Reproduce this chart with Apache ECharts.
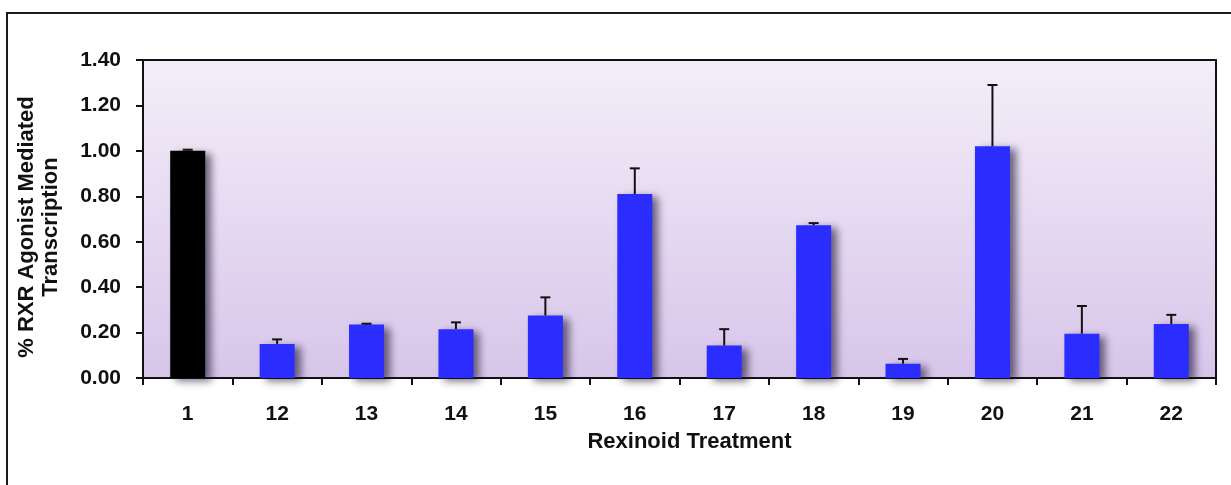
<!DOCTYPE html>
<html>
<head>
<meta charset="utf-8">
<script src="https://cdn.jsdelivr.net/npm/echarts@6/dist/echarts.min.js"></script>
<style>
  html, body { margin: 0; padding: 0; background: #ffffff; }
  #chart { width: 1231px; height: 485px; }
</style>
</head>
<body>
<div id="chart"></div>
<script>
// Rexinoid treatments and their relative RXR agonist-mediated transcription
const categories = ['1', '12', '13', '14', '15', '16', '17', '18', '19', '20', '21', '22'];
const meanValues = [1.00, 0.15, 0.235, 0.215, 0.275, 0.81, 0.143, 0.672, 0.063, 1.02, 0.195, 0.238];
const errorValues = [0.005, 0.02, 0.004, 0.03, 0.08, 0.113, 0.072, 0.01, 0.021, 0.27, 0.122, 0.04];
const barColors = ['#000000', '#2b2dff', '#2b2dff', '#2b2dff', '#2b2dff', '#2b2dff',
                   '#2b2dff', '#2b2dff', '#2b2dff', '#2b2dff', '#2b2dff', '#2b2dff'];
const yMin = 0, yMax = 1.4, yStep = 0.2;

const fontFamily = '"Liberation Sans", Arial, Helvetica, sans-serif';

const chart = echarts.init(document.getElementById('chart'), null, { renderer: 'canvas' });

const option = {
  animation: false,
  backgroundColor: '#ffffff',
  graphic: [{
    type: 'rect',
    silent: true,
    z: -10,
    shape: { x: 7, y: 13, width: 1400, height: 700 },
    style: { fill: 'none', stroke: '#1a1a1a', lineWidth: 2 }
  }],
  grid: {
    left: 143, right: 15, top: 60, bottom: 107,
    show: true,
    borderColor: '#111111',
    borderWidth: 2,
    backgroundColor: new echarts.graphic.LinearGradient(0, 0, 0, 1, [
      { offset: 0, color: '#f3eff9' },
      { offset: 1, color: '#d8c5ea' }
    ])
  },
  xAxis: {
    type: 'category',
    data: categories,
    name: 'Rexinoid Treatment',
    nameLocation: 'middle',
    nameGap: 53,
    nameTextStyle: {
      fontFamily, fontWeight: 'bold', fontSize: 22, color: '#111111',
      padding: [0, 0, 0, 20]
    },
    axisLine: { lineStyle: { color: '#111111', width: 2 } },
    axisTick: { show: true, length: 7, lineStyle: { color: '#111111', width: 2 } },
    axisLabel: {
      fontFamily, fontWeight: 'bold', fontSize: 21, color: '#111111', margin: 26
    },
    splitLine: { show: false }
  },
  yAxis: {
    type: 'value',
    min: yMin, max: yMax, interval: yStep,
    name: '% RXR Agonist Mediated\nTranscription',
    nameLocation: 'middle',
    nameGap: 80,
    nameRotate: 90,
    nameTextStyle: {
      fontFamily, fontWeight: 'bold', fontSize: 22, color: '#111111', lineHeight: 24,
      padding: [0, 16, 0, 0]
    },
    axisLine: { show: true, lineStyle: { color: '#111111', width: 2 } },
    axisTick: { show: true, length: 7, lineStyle: { color: '#111111', width: 2 } },
    axisLabel: {
      fontFamily, fontWeight: 'bold', fontSize: 21, color: '#111111', margin: 22,
      formatter: v => v.toFixed(2)
    },
    splitLine: { show: false }
  },
  series: [
    {
      type: 'bar',
      barWidth: 35,
      data: meanValues.map((v, i) => ({
        value: v,
        itemStyle: { color: barColors[i] }
      })),
      itemStyle: {
        shadowColor: 'rgba(20, 10, 40, 0.6)',
        shadowBlur: 8,
        shadowOffsetX: 6,
        shadowOffsetY: 3
      },
      z: 2
    },
    {
      // upward error bars with caps
      type: 'custom',
      z: 5,
      data: meanValues.map((v, i) => [i, v, v + errorValues[i]]),
      renderItem: function (params, api) {
        const base = api.coord([api.value(0), api.value(1)]);
        const top = api.coord([api.value(0), api.value(2)]);
        const half = 5;
        const style = { stroke: '#111111', lineWidth: 2 };
        return {
          type: 'group',
          children: [
            { type: 'line', shape: { x1: base[0], y1: base[1], x2: top[0], y2: top[1] }, style },
            { type: 'line', shape: { x1: top[0] - half, y1: top[1], x2: top[0] + half, y2: top[1] }, style }
          ]
        };
      }
    }
  ]
};

chart.setOption(option);
</script>
</body>
</html>
